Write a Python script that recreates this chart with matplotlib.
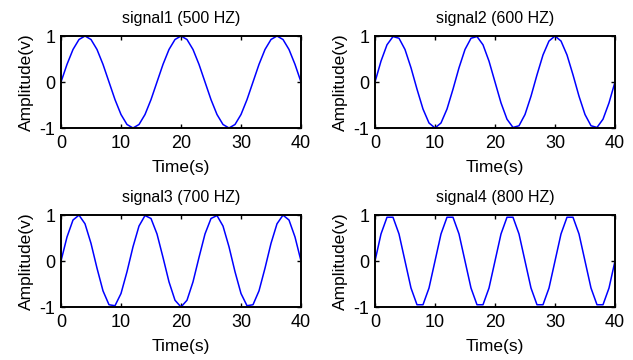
import matplotlib
matplotlib.use("Agg")
import matplotlib.pyplot as plt

plt.rcParams['font.family'] = ['Liberation Sans', 'DejaVu Sans']

n = list(range(41))

titles = ["signal1 (500 HZ)", "signal2 (600 HZ)", "signal3 (700 HZ)", "signal4 (800 HZ)"]

signal1 = [0, .383, .707, .924, 1, .924, .707, .383, 0, -.383, -.707, -.924, -1, -.924, -.707, -.383,
           0, .383, .707, .924, 1, .924, .707, .383, 0, -.383, -.707, -.924, -1, -.924, -.707, -.383,
           0, .383, .707, .924, 1, .924, .707, .383, 0]
signal2 = [0, .454, .809, .988, .951, .707, .309, -.156, -.588, -.891, -1, -.891, -.588, -.156,
           .309, .707, .951, .988, .809, .454, 0, -.454, -.809, -.988, -.951, -.707, -.309,
           .156, .588, .891, 1, .891, .588, .156, -.309, -.707, -.951, -.988, -.809, -.454, 0]
signal3 = [0, .522, .891, .997, .809, .383, -.156, -.649, -.951, -.972, -.707, -.233,
           .309, .760, .988, .924, .588, .078, -.454, -.853, -1, -.853, -.454, .078,
           .588, .924, .988, .760, .309, -.233, -.707, -.972, -.951, -.649, -.156,
           .383, .809, .997, .891, .522, 0]
signal4 = [0, .588, .951, .951, .588, 0, -.588, -.951, -.951, -.588,
           0, .588, .951, .951, .588, 0, -.588, -.951, -.951, -.588,
           0, .588, .951, .951, .588, 0, -.588, -.951, -.951, -.588,
           0, .588, .951, .951, .588, 0, -.588, -.951, -.951, -.588, 0]
signals = [signal1, signal2, signal3, signal4]

xticks = [0, 10, 20, 30, 40]
yticks = [-1, 0, 1]

W, H = 633, 360
fig = plt.figure(figsize=(W / 100, H / 100), dpi=100)

# axes boxes in pixels: (left, top, right, bottom)
boxes = [(61, 36, 301, 128), (375, 36, 615, 128),
         (61, 215, 301, 307), (375, 215, 615, 307)]

for box, sig, title in zip(boxes, signals, titles):
    l, t, r, b = box
    ax = fig.add_axes([l / W, 1 - b / H, (r - l) / W, (b - t) / H])
    ax.plot(n, sig, color=(0, 0, 1), lw=1.1)
    ax.set_xlim(0, 40)
    ax.set_ylim(-1, 1)
    ax.set_xticks(xticks)
    ax.set_yticks(yticks)
    ax.set_yticklabels([str(v) for v in yticks])
    ax.tick_params(direction='in', top=True, right=True, length=3, width=1,
                   labelsize=13, color='black')
    ax.tick_params(axis='x', pad=5)
    ax.tick_params(axis='y', pad=4)
    for s in ax.spines.values():
        s.set_linewidth(1.4)
    ax.set_title(title, fontsize=11.5, pad=9.5)
    ax.set_xlabel("Time(s)", fontsize=12.5, labelpad=6)
    ax.set_ylabel("Amplitude(v)", fontsize=12.5, labelpad=4)

fig.savefig("out.png", dpi=100)
